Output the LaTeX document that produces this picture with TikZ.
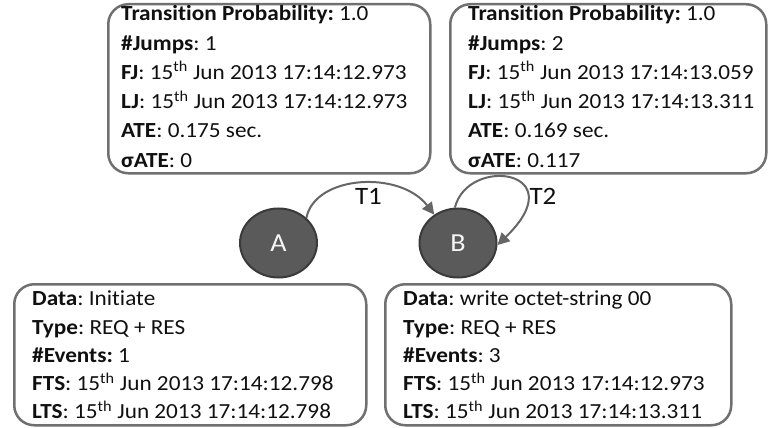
\documentclass[tikz,border=0pt]{standalone}
\usepackage{fontspec}
\setmainfont[FakeStretch=1.08,RawFeature={-liga}]{Carlito}
\usetikzlibrary{arrows.meta,shapes.geometric}
\definecolor{boxgray}{HTML}{707070}
\definecolor{arrgray}{HTML}{666666}
\definecolor{statefill}{HTML}{5A5A5A}
\definecolor{stateline}{HTML}{3A3A3A}
\definecolor{txtcol}{HTML}{101010}
\frenchspacing
\begin{document}
\begin{tikzpicture}[x=1pt,y=-1pt,
  infobox/.style={draw=boxgray,line width=2.5pt,rounded corners=20pt,inner sep=0pt,anchor=north west},
  toptext/.style={anchor=north west,inner sep=0pt,align=left,text=txtcol,font=\fontsize{21.5}{29.3}\selectfont},
  bottext/.style={anchor=north west,inner sep=0pt,align=left,text=txtcol,font=\fontsize{21.5}{28.3}\selectfont},
  state/.style={ellipse,fill=statefill,draw=stateline,line width=2pt,minimum width=77pt,minimum height=69pt,inner sep=0pt,text=white!92!gray,font=\fontsize{26}{30}\selectfont},
  arr/.style={draw=arrgray,line width=2pt,-{Triangle[length=12pt,width=12pt]}},
  tlabel/.style={text=txtcol,font=\fontsize{25}{30}\selectfont,inner sep=0pt}]
\useasboundingbox (0,0) rectangle (769,428);
% boxes
\node[infobox,minimum width=322pt,minimum height=169pt] (tlbox) at (107,3) {};
\node[infobox,minimum width=316pt,minimum height=169pt] (trbox) at (449,3) {};
\node[infobox,minimum width=352pt,minimum height=141pt] (blbox) at (13,283) {};
\node[infobox,minimum width=346pt,minimum height=141pt] (brbox) at (384,283) {};
% texts
\node[toptext] (tltext) at (121,3.5) {\rule{0pt}{17pt}\textbf{Transition Probability:} 1.0\\
\textbf{\#Jumps}: 1\\
\textbf{FJ}: 15\textsuperscript{th} Jun 2013 17:14:12.973\\
\textbf{LJ}: 15\textsuperscript{th} Jun 2013 17:14:12.973\\
\textbf{ATE}: 0.175 sec.\\
\textbf{σATE}: 0};
\node[toptext] (trtext) at (468,3.5) {\rule{0pt}{17pt}\textbf{Transition Probability:} 1.0\\
\textbf{\#Jumps}: 2\\
\textbf{FJ}: 15\textsuperscript{th} Jun 2013 17:14:13.059\\
\textbf{LJ}: 15\textsuperscript{th} Jun 2013 17:14:13.311\\
\textbf{ATE}: 0.169 sec.\\
\textbf{σATE}: 0.117};
\node[bottext] (bltext) at (32,288.5) {\rule{0pt}{17pt}\textbf{Data}: Initiate\\
\textbf{Type}: REQ + RES\\
\textbf{\#Events:} 1\\
\textbf{FTS}: 15\textsuperscript{th} Jun 2013 17:14:12.798\\
\textbf{LTS}: 15\textsuperscript{th} Jun 2013 17:14:12.798};
\node[bottext] (brtext) at (403,288.5) {\rule{0pt}{17pt}\textbf{Data}: write octet-string 00\\
\textbf{Type}: REQ + RES\\
\textbf{\#Events}: 3\\
\textbf{FTS}: 15\textsuperscript{th} Jun 2013 17:14:12.973\\
\textbf{LTS}: 15\textsuperscript{th} Jun 2013 17:14:13.311};
% states
\node[state] (A) at (278.5,243) {A};
\node[state] (B) at (458,243) {B};
% transitions
\draw[arr] (A.42) .. controls (315,175) and (400,170) .. (B.130);
\draw[arr] (B.95) .. controls (468,155) and (575,170) .. (B.-3);
\node[tlabel] (t1) at (368.5,196) {T1};
\node[tlabel] (t2) at (543,196) {T2};
\end{tikzpicture}
\end{document}
